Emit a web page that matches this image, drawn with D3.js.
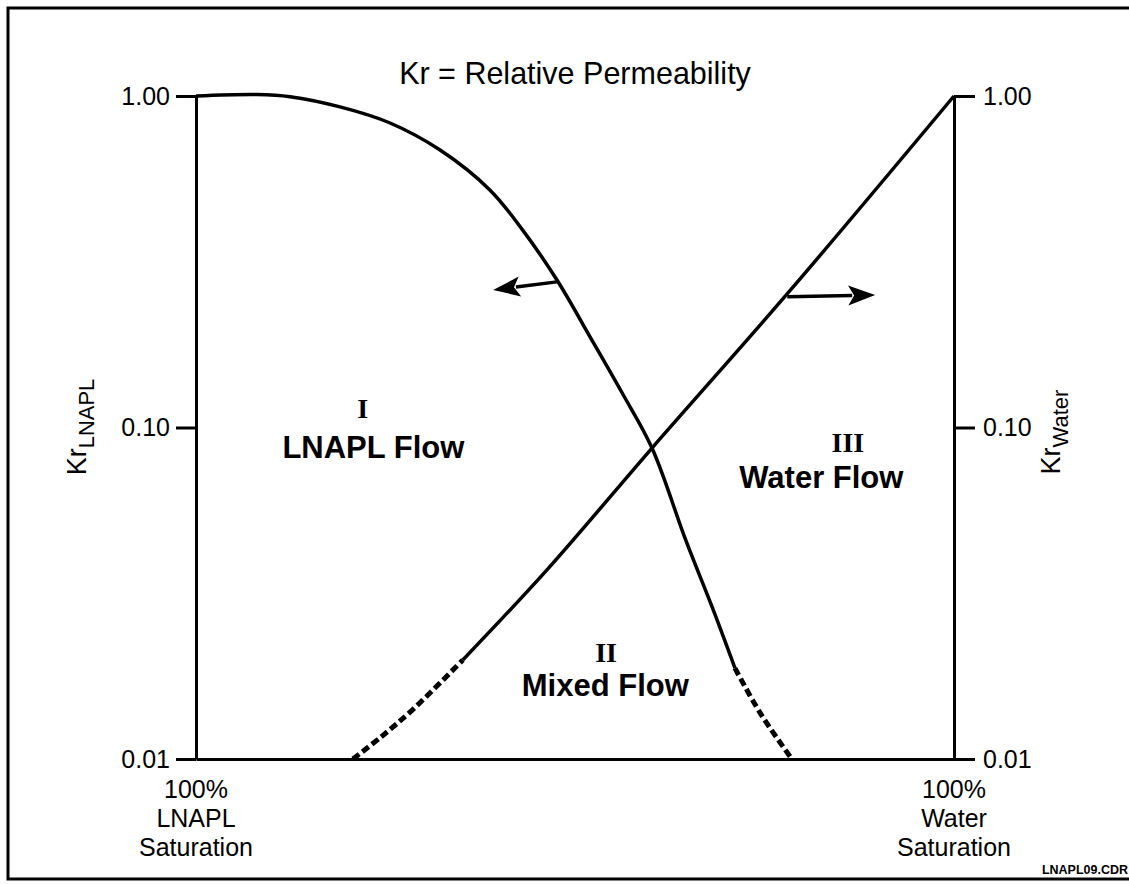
<!doctype html>
<meta charset="utf-8">
<style>
  body { margin: 0; background: #fff; }
  text { font-family: "Liberation Sans", Arial, sans-serif; fill: #000; }
</style>
<body>
<script src="https://d3js.org/d3.v7.min.js"></script>
<script>

// water saturation (% of pore space) along the bottom, 0 = 100% LNAPL, 100 = 100% water
let lnaplSat = [0, 8, 12.4, 19, 25.6, 32.2, 38.8, 43.1, 47.6, 52, 56.3, 60.16, 64.6, 68.1, 71.1, 74.4, 78.6];
let lnaplKr  = [1, 1.01, 0.995, 0.927, 0.829, 0.687, 0.52, 0.394, 0.279, 0.1875, 0.1262, 0.0867, 0.0458, 0.0287, 0.0188, 0.0138, 0.01];
let lnaplDashFrom = 14; // index where the curve turns dashed

let waterSat = [20.7, 24.3, 28.6, 35.2, 46.3, 60.16, 78.1, 100];
let waterKr  = [0.01, 0.0116, 0.0141, 0.0199, 0.0372, 0.0867, 0.2546, 1];
let waterDashTo = 3; // curve is dashed up to this index

let krTicks = [0.01, 0.1, 1];
let endLabels = [["100%", "LNAPL", "Saturation"], ["100%", "Water", "Saturation"]];
let endSat = [0, 100];

let regionNums  = ["I", "II", "III"];
let regionNames = ["LNAPL Flow", "Mixed Flow", "Water Flow"];
let regionNumPos  = [[22.0, 0.107], [54.1, 0.0196], [86.0, 0.0844]];
let regionNamePos = [[23.4, 0.0809], [54.0, 0.0155], [82.5, 0.0657]];

// arrows: from a point on the curve toward the side of the axis it belongs to
let arrows = [
  {from: [47.6, 0.275], to: [39.2, 0.26]},
  {from: [78.0, 0.248], to: [89.6, 0.251]}
];

let width = 1129, height = 884;
let margin = {top: 96, right: 175, bottom: 125, left: 196};

let svg = d3.select('body').append('svg')
    .attr('width', width)
    .attr('height', height);

// outer frame
svg.append('rect')
    .attr('x', 8).attr('y', 8)
    .attr('width', width + 10).attr('height', 871)
    .attr('fill', 'none')
    .attr('stroke', '#000')
    .attr('stroke-width', 3);

let x = d3.scaleLinear().domain([0, 100]).range([margin.left, width - margin.right]);
let y = d3.scaleLog().domain([0.01, 1]).range([height - margin.bottom, margin.top]);

// left axis
let leftAxis = svg.append('g')
    .attr('transform', 'translate(' + x(0) + ',0)')
    .call(d3.axisLeft(y).tickValues(krTicks).tickFormat(d3.format('.2f'))
      .tickSize(20).tickSizeOuter(0).tickPadding(6));

// right axis
let rightAxis = svg.append('g')
    .attr('transform', 'translate(' + x(100) + ',0)')
    .call(d3.axisRight(y).tickValues(krTicks).tickFormat(d3.format('.2f'))
      .tickSize(21).tickSizeOuter(0).tickPadding(8));

// baseline
let bottomAxis = svg.append('g')
    .attr('transform', 'translate(0,' + y(0.01) + ')')
    .call(d3.axisBottom(x).tickValues([]).tickSizeOuter(0));

[leftAxis, rightAxis, bottomAxis].forEach(g => {
  g.selectAll('path, line').attr('stroke', '#000').attr('stroke-width', 3);
  g.selectAll('text').style('font-family', '"Liberation Sans", Arial, sans-serif')
    .style('font-size', '25px').attr('fill', '#000');
});

// end labels under the axes
endLabels.forEach((lines, i) => {
  let t = svg.append('text')
      .attr('text-anchor', 'middle')
      .style('font-size', '25px');
  lines.forEach((s, j) => {
    t.append('tspan')
      .attr('x', x(endSat[i]))
      .attr('y', y(0.01) + 39 + j * 29)
      .text(s);
  });
});

// curves
let line = d3.line()
    .x(d => x(d[0]))
    .y(d => y(d[1]))
    .curve(d3.curveCatmullRom.alpha(0.5));

let lnapl = lnaplSat.map((s, i) => [s, lnaplKr[i]]);
let water = waterSat.map((s, i) => [s, waterKr[i]]);

function drawCurve(pts, dashed) {
  svg.append('path')
    .datum(pts)
    .attr('d', line)
    .attr('fill', 'none')
    .attr('stroke', '#000')
    .attr('stroke-width', dashed ? 5 : 3.5)
    .attr('stroke-dasharray', dashed ? '8,4' : null);
}

drawCurve(lnapl.slice(0, lnaplDashFrom + 1), false);
drawCurve(lnapl.slice(lnaplDashFrom), true);
drawCurve(water.slice(0, waterDashTo + 1), true);
drawCurve(water.slice(waterDashTo), false);

// arrows
arrows.forEach(a => {
  let x1 = x(a.from[0]), y1 = y(a.from[1]),
      x2 = x(a.to[0]), y2 = y(a.to[1]);
  let ang = Math.atan2(y2 - y1, x2 - x1),
      len = 27, half = 10;
  let bx = x2 - len * Math.cos(ang), by = y2 - len * Math.sin(ang);
  svg.append('line')
    .attr('x1', x1).attr('y1', y1)
    .attr('x2', bx + 4 * Math.cos(ang)).attr('y2', by + 4 * Math.sin(ang))
    .attr('stroke', '#000').attr('stroke-width', 3.5);
  svg.append('path')
    .attr('d', 'M' + x2 + ',' + y2 +
      'L' + (bx - half * Math.sin(ang)) + ',' + (by + half * Math.cos(ang)) +
      'L' + (bx + 6 * Math.cos(ang)) + ',' + (by + 6 * Math.sin(ang)) +
      'L' + (bx + half * Math.sin(ang)) + ',' + (by - half * Math.cos(ang)) + 'Z')
    .attr('fill', '#000');
});

// region labels
regionNums.forEach((s, i) => {
  svg.append('text')
    .attr('x', x(regionNumPos[i][0]))
    .attr('y', y(regionNumPos[i][1]))
    .attr('text-anchor', 'middle')
    .style('font-family', '"Liberation Serif", "Times New Roman", serif')
    .style('font-weight', 'bold')
    .style('font-size', '28px')
    .text(s);
  svg.append('text')
    .attr('x', x(regionNamePos[i][0]))
    .attr('y', y(regionNamePos[i][1]))
    .attr('text-anchor', 'middle')
    .style('font-weight', 'bold')
    .style('font-size', '31px')
    .text(regionNames[i]);
});

// title
svg.append('text')
    .attr('x', (x(0) + x(100)) / 2)
    .attr('y', 84)
    .attr('text-anchor', 'middle')
    .style('font-size', '30.5px')
    .text('Kr = Relative Permeability');

// axis titles with subscripts
function axisTitle(cx, cy, sub) {
  let t = svg.append('text')
      .attr('transform', 'translate(' + cx + ',' + cy + ') rotate(-90)')
      .attr('text-anchor', 'middle')
      .style('font-size', '27px');
  t.append('tspan').text('Kr');
  t.append('tspan').attr('dy', 8).style('font-size', '22px').text(sub);
}
axisTitle(86, 427, 'LNAPL');
axisTitle(1060, 432, 'Water');

// drawing file tag
svg.append('text')
    .attr('x', width - 1)
    .attr('y', 874)
    .attr('text-anchor', 'end')
    .style('font-weight', 'bold')
    .style('font-size', '12.5px')
    .text('LNAPL09.CDR');

</script>
</body>
